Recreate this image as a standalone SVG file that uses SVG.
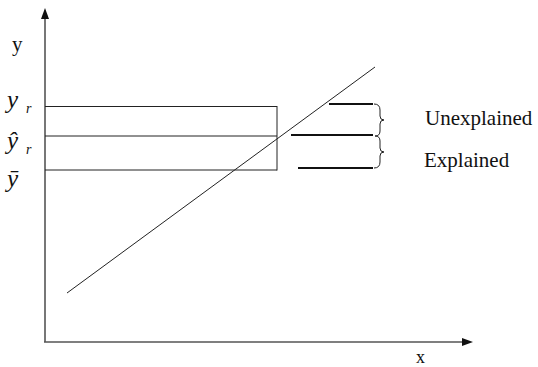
<svg xmlns="http://www.w3.org/2000/svg" width="538" height="367" viewBox="0 0 538 367">
<style>
.axis{stroke:#555;stroke-width:1.6;fill:none}
.thin{stroke:#222;stroke-width:1;fill:none}
.seg{stroke:#111;stroke-width:2;fill:none}
.t{font-family:"Liberation Serif","Times New Roman",serif;fill:#111}
.m{font-family:"Liberation Serif","Times New Roman",serif;font-style:italic;fill:#111}
</style>
<rect width="538" height="367" fill="#fff"/>
<g id="axes">
<line class="axis" x1="45" y1="16" x2="45" y2="342"/>
<polygon points="45,8 41,19 49,19" fill="#111"/>
<line class="axis" x1="44" y1="342" x2="464" y2="342"/>
<polygon points="473,342 462,338 462,346" fill="#111"/>
</g>
<g id="labels">
<text class="t" x="12" y="51" font-size="21">y</text>
<text class="t" x="416" y="363" font-size="18">x</text>
<text class="m" x="7" y="108" font-size="25">y</text>
<text class="m" x="26" y="113" font-size="14">r</text>
<text class="m" x="7" y="149" font-size="25">ŷ</text>
<text class="m" x="26" y="154" font-size="14">r</text>
<text class="m" x="7" y="187" font-size="25">ȳ</text>
</g>
<g id="connectors">
<line class="thin" x1="45" y1="106.5" x2="277" y2="106.5"/>
<line class="thin" x1="45" y1="136" x2="277" y2="136"/>
<line class="thin" x1="45" y1="170" x2="277" y2="170"/>
<line class="thin" x1="277" y1="106" x2="277" y2="170.5"/>
<line class="thin" x1="67" y1="293" x2="375" y2="67"/>
<line class="seg" x1="329" y1="104" x2="373" y2="104"/>
<line class="seg" x1="291" y1="135" x2="373" y2="135"/>
<line class="seg" x1="298" y1="168" x2="373" y2="168"/>
<path class="thin" stroke-width="1.3" d="M374,104 Q380,104 380,110 L380,116 Q380,120 384,120 Q380,120 380,124 L380,131 Q380,136 375,136 Q380,136 380,141 L380,148 Q380,152 384,152 Q380,152 380,156 L380,162 Q380,168 374,168"/>
</g>
<g id="legend">
<text class="t" x="425" y="125" font-size="21">Unexplained</text>
<text class="t" x="424" y="167" font-size="21">Explained</text>
</g>
</svg>
